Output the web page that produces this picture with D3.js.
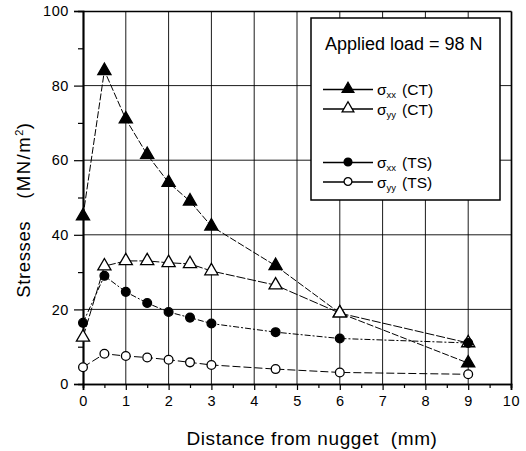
<!DOCTYPE html>
<html>
<head>
<meta charset="utf-8">
<script src="https://cdn.jsdelivr.net/npm/d3@7"></script>
<style>
  body { margin: 0; background: white; }
  text { font-family: Arial, "Liberation Sans", sans-serif; fill: #000; }
</style>
</head>
<body>
<div id="chart"></div>
<script>
const distance = [0, 0.5, 1, 1.5, 2, 2.5, 3, 4.5, 6, 9]
const sxxCT = [45, 84, 71, 61.5, 54, 49, 42.3, 31.7, 19, 5.6]
const syyCT = [12.5, 31.6, 33, 33, 32.5, 32.2, 30.3, 26.5, 19, 11]
const sxxTS = [16.4, 29, 24.7, 21.7, 19.3, 17.8, 16.2, 13.9, 12.2, 11]
const syyTS = [4.5, 8.1, 7.5, 7.1, 6.5, 5.8, 5.1, 4, 3.1, 2.6]
const xTicks = [0, 1, 2, 3, 4, 5, 6, 7, 8, 9, 10]
const yTicks = [0, 20, 40, 60, 80, 100]

const series = [
    { name: 'xx', tag: '(CT)', values: sxxCT, shape: d3.symbolTriangle, filled: true, dash: '7,2' },
    { name: 'yy', tag: '(CT)', values: syyCT, shape: d3.symbolTriangle, filled: false, dash: '9,2' },
    { name: 'xx', tag: '(TS)', values: sxxTS, shape: d3.symbolCircle, filled: true, dash: '6,2,2,2' },
    { name: 'yy', tag: '(TS)', values: syyTS, shape: d3.symbolCircle, filled: false, dash: '8,3' },
]

const CONFIG = {
    width: 526,
    height: 451,
    margin: { top: 11, right: 15, bottom: 67, left: 83 }
}

const svg = d3.select('#chart')
    .append('svg')
    .attr('width', CONFIG.width)
    .attr('height', CONFIG.height)

const innerW = CONFIG.width - CONFIG.margin.left - CONFIG.margin.right
const innerH = CONFIG.height - CONFIG.margin.top - CONFIG.margin.bottom

const g = svg.append('g')
    .attr('transform', `translate(${CONFIG.margin.left}, ${CONFIG.margin.top})`)

const x = d3.scaleLinear().domain([0, 10]).range([0, innerW])
const y = d3.scaleLinear().domain([0, 100]).range([innerH, 0])

// grid
g.append('g')
    .selectAll('line')
    .data(xTicks.slice(1, -1))
    .enter()
    .append('line')
    .attr('x1', d => x(d)).attr('x2', d => x(d))
    .attr('y1', 0).attr('y2', innerH)
    .attr('stroke', '#000').attr('stroke-width', 0.9)

g.append('g')
    .selectAll('line')
    .data(yTicks.slice(1, -1))
    .enter()
    .append('line')
    .attr('y1', d => y(d)).attr('y2', d => y(d))
    .attr('x1', 0).attr('x2', innerW)
    .attr('stroke', '#000').attr('stroke-width', 0.9)

// axes
g.append('g')
    .attr('transform', `translate(0, ${innerH})`)
    .call(d3.axisBottom(x).tickValues(xTicks).tickSize(6).tickPadding(6).tickFormat(d3.format('d')))
g.append('g')
    .attr('transform', `translate(0, ${innerH})`)
    .call(d3.axisBottom(x).tickValues(d3.range(0.5, 10, 1)).tickSize(4).tickFormat(''))

g.append('g')
    .call(d3.axisLeft(y).tickValues(yTicks).tickSize(9).tickPadding(5))
g.append('g')
    .call(d3.axisLeft(y).tickValues(d3.range(10, 100, 20)).tickSize(5).tickFormat(''))

g.append('g').call(d3.axisTop(x).tickValues([]).tickSizeOuter(0))
g.append('g').attr('transform', `translate(${innerW}, 0)`)
    .call(d3.axisRight(y).tickValues([]).tickSizeOuter(0))

g.selectAll('.domain').attr('stroke', '#000').attr('stroke-width', 1.7)
g.selectAll('.tick line').attr('stroke', '#000').attr('stroke-width', 1.2)
g.selectAll('.tick text')
    .attr('font-size', '14.5px')
    .attr('letter-spacing', '0.6px')
    .attr('font-family', 'Arial, "Liberation Sans", sans-serif')

// lines and markers
const line = d3.line()
    .x((d, i) => x(distance[i]))
    .y(d => y(d))

const symbolSize = (s) => s.shape === d3.symbolTriangle ? 75 : 60

series.forEach((s) => {
    g.append('path')
        .datum(s.values)
        .attr('d', line)
        .attr('fill', 'none')
        .attr('stroke', '#000')
        .attr('stroke-width', 1)
        .attr('stroke-dasharray', s.dash)
})

series.forEach((s) => {
    g.append('g')
        .selectAll('path')
        .data(s.values)
        .enter()
        .append('path')
        .attr('transform', (d, i) => `translate(${x(distance[i])}, ${y(d)})`)
        .attr('d', d3.symbol().type(s.shape).size(symbolSize(s)))
        .attr('fill', s.filled ? '#000' : '#fff')
        .attr('stroke', '#000')
        .attr('stroke-width', 1.3)
})

// axis titles
svg.append('text')
    .attr('x', 312)
    .attr('y', 445)
    .attr('text-anchor', 'middle')
    .attr('font-size', '19px')
    .attr('letter-spacing', '0.6px')
    .text('Distance from nugget\u00a0\u00a0(mm)')

const yTitle = svg.append('text')
    .attr('transform', 'translate(30, 210) rotate(-90)')
    .attr('text-anchor', 'middle')
    .attr('font-size', '18.5px')
    .attr('letter-spacing', '0.6px')
yTitle.append('tspan').text('Stresses')
yTitle.append('tspan').attr('dx', 22).attr('letter-spacing', '1.5px').text('(MN/m')
yTitle.append('tspan').attr('font-size', '11px').attr('dy', '-7').text('2')
yTitle.append('tspan').attr('dy', '7').text(')')

// legend
const legend = svg.append('g')
    .attr('transform', 'translate(311, 18)')

legend.append('rect')
    .attr('width', 189)
    .attr('height', 182)
    .attr('fill', '#fff')
    .attr('stroke', '#000')
    .attr('stroke-width', 1.5)

legend.append('text')
    .attr('x', 14)
    .attr('y', 32)
    .attr('font-size', '18px')
    .text('Applied load = 98 N')

const rowY = [71, 90.5, 144, 163.5]
const items = legend.selectAll('.legend-item')
    .data(series)
    .enter()
    .append('g')
    .classed('legend-item', true)
    .attr('transform', (d, i) => `translate(0, ${rowY[i]})`)

items.append('line')
    .attr('x1', 12).attr('x2', 62)
    .attr('y1', 0.5).attr('y2', 0.5)
    .attr('stroke', '#000').attr('stroke-width', 1.3)
items.append('path')
    .attr('transform', 'translate(37, 0)')
    .attr('d', d => d3.symbol().type(d.shape).size(symbolSize(d) * 0.8)())
    .attr('fill', d => d.filled ? '#000' : '#fff')
    .attr('stroke', '#000')
    .attr('stroke-width', 1.3)

const label = items.append('text')
    .attr('x', 66)
    .attr('y', 6)
    .attr('font-size', '15.5px')
label.append('tspan').text('σ')
label.append('tspan').attr('font-size', '9.5px').attr('dy', '3').text(d => d.name)
label.append('tspan').attr('dy', '-3').attr('dx', '6').text(d => d.tag)
</script>
</body>
</html>
